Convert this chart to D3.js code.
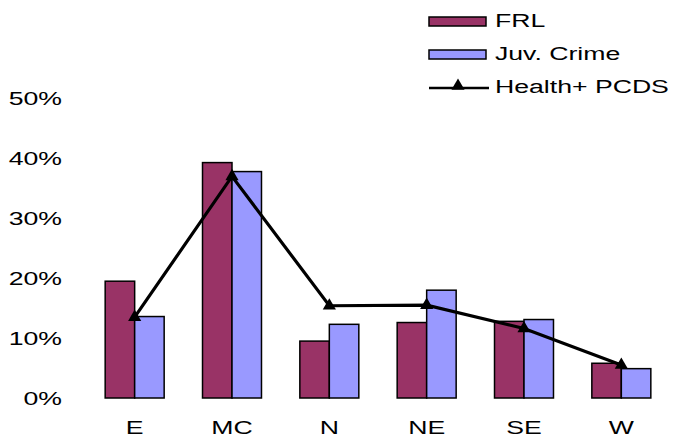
<!DOCTYPE html>
<html>
<head>
<meta charset="utf-8">
<script src="https://cdn.jsdelivr.net/npm/d3@7"></script>
<style>
  body { margin: 0; background: #fff; }
  text { font-family: "Liberation Sans", Arial, sans-serif; fill: #000; }
</style>
</head>
<body>
<div id="chart"></div>
<script>
// values, in percent
const regions = ['E', 'MC', 'N', 'NE', 'SE', 'W'];
const frl = [19.5, 39.3, 9.5, 12.6, 12.8, 5.8];
const juvCrime = [13.6, 37.8, 12.3, 18.0, 13.1, 4.9];
const healthPcds = [13.5, 37.0, 15.4, 15.5, 11.6, 5.5];
const yTicks = [0, 10, 20, 30, 40, 50];
const seriesNames = ['FRL', 'Juv. Crime', 'Health+ PCDS'];

const width = 674, height = 437;
const colors = { FRL: '#993366', Juv: '#9999ff' };
// the original text is stretched sideways
const stretch = 'scale(1.48,1)';

const svg = d3.select('#chart').append('svg')
    .attr('width', width)
    .attr('height', height);

const x = d3.scaleBand()
    .domain(regions)
    .range([86, 670])
    .paddingInner(0.394)
    .paddingOuter(0.197);

const x1 = d3.scaleBand()
    .domain(['FRL', 'Juv'])
    .range([0, x.bandwidth()]);

const y = d3.scaleLinear()
    .domain([0, 50])
    .range([398, 98.5]);

// y axis, labels only
const yAxis = svg.append('g')
    .attr('transform', 'translate(62,0)')
    .call(d3.axisLeft(y).tickValues(yTicks).tickSize(0).tickPadding(0).tickFormat(d => d + '%'));
yAxis.select('.domain').remove();
yAxis.selectAll('text')
    .attr('x', 0)
    .attr('dy', '0.35em')
    .attr('transform', stretch)
    .style('font-size', '18px')
    .style('font-family', '"Liberation Sans", Arial, sans-serif')
    .attr('fill', '#000');

// x axis labels
const xAxis = svg.append('g')
    .attr('transform', 'translate(0,398)')
    .call(d3.axisBottom(x).tickSize(0));
xAxis.select('.domain').remove();
xAxis.selectAll('text')
    .attr('y', 0)
    .attr('dy', 0)
    .attr('transform', 'translate(0,35.5) ' + stretch)
    .style('font-size', '18px')
    .style('font-family', '"Liberation Sans", Arial, sans-serif')
    .attr('fill', '#000');

// bars
const groups = svg.selectAll('.group')
    .data(regions.map((r, i) => ({ region: r, values: [
        { key: 'FRL', value: frl[i] },
        { key: 'Juv', value: juvCrime[i] }
    ] })))
    .enter()
    .append('g')
    .attr('class', 'group')
    .attr('transform', d => `translate(${x(d.region)},0)`);

groups.selectAll('rect')
    .data(d => d.values)
    .enter()
    .append('rect')
    .attr('x', d => x1(d.key))
    .attr('width', x1.bandwidth())
    .attr('y', d => y(d.value))
    .attr('height', d => y(0) - y(d.value))
    .attr('fill', d => colors[d.key])
    .attr('stroke', '#000')
    .attr('stroke-width', 1.5);

// line with triangle markers
const linePoints = regions.map((r, i) => [x(r) + x.bandwidth() / 2, y(healthPcds[i])]);
svg.append('path')
    .attr('d', d3.line()(linePoints))
    .attr('fill', 'none')
    .attr('stroke', '#000')
    .attr('stroke-width', 3.2);

const triangle = d3.symbol().type(d3.symbolTriangle).size(75);
svg.selectAll('.marker')
    .data(linePoints)
    .enter()
    .append('path')
    .attr('class', 'marker')
    .attr('d', triangle)
    .attr('transform', d => `translate(${d[0]},${d[1]})`)
    .attr('fill', '#000');

// legend
const legend = svg.append('g');
legend.append('rect')
    .attr('x', 429).attr('y', 17).attr('width', 57).attr('height', 9)
    .attr('fill', colors.FRL).attr('stroke', '#000').attr('stroke-width', 1.5);
legend.append('rect')
    .attr('x', 429).attr('y', 50).attr('width', 57).attr('height', 9)
    .attr('fill', colors.Juv).attr('stroke', '#000').attr('stroke-width', 1.5);
legend.append('line')
    .attr('x1', 429).attr('x2', 489).attr('y1', 88).attr('y2', 88)
    .attr('stroke', '#000').attr('stroke-width', 2.5);
legend.append('path')
    .attr('d', triangle)
    .attr('transform', 'translate(458,86)')
    .attr('fill', '#000');

const legendBaselines = [27, 60, 93];
seriesNames.forEach((name, i) => {
    legend.append('text')
        .attr('transform', `translate(495,${legendBaselines[i]}) ${stretch}`)
        .style('font-size', '18px')
        .text(name);
});
</script>
</body>
</html>
